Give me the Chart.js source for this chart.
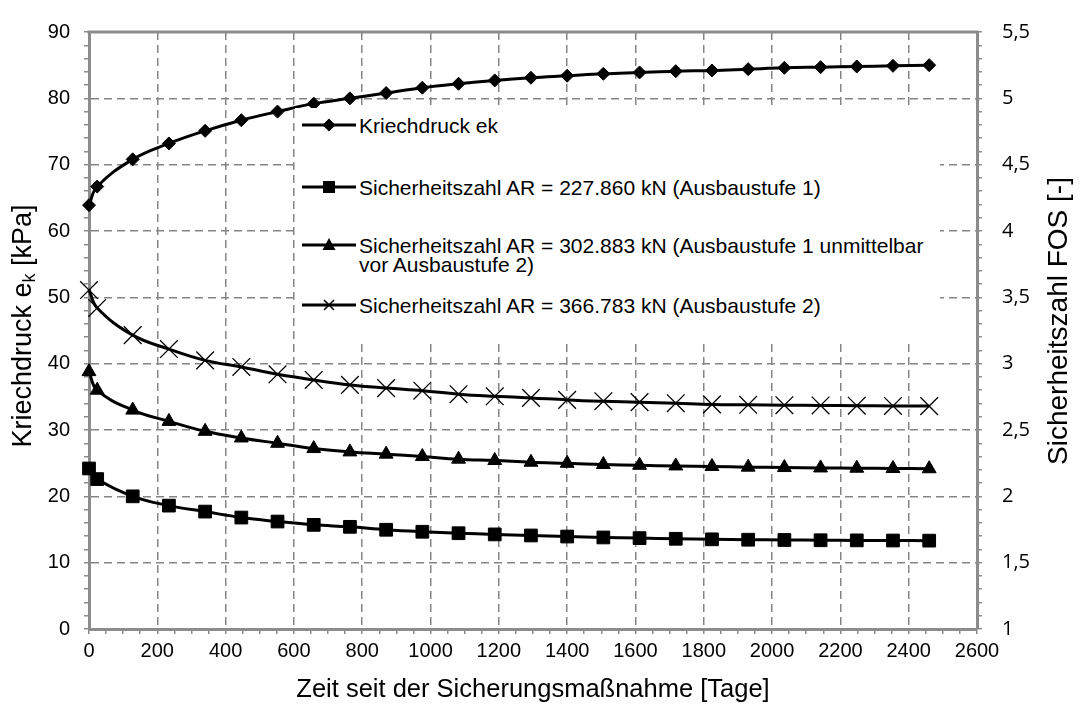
<!DOCTYPE html>
<html lang="de">
<head>
  <meta charset="utf-8">
  <title>Kriechdruck und Sicherheitszahl</title>
  <script src="https://cdn.jsdelivr.net/npm/chart.js@4.4.1/dist/chart.umd.min.js"></script>
  <style>
    body { margin: 0; background: #fff; }
    #wrap { position: relative; width: 1080px; height: 706px; }
    #legend {
      position: absolute; left: 295px; top: 108px; width: 645px; height: 235px;
      background: #fff; font: 21px 'Liberation Sans', Arial, sans-serif; color: #000;
    }
    #legend .sym { position: absolute; left: 7px; width: 54px; height: 24px; }
    #legend .txt { position: absolute; left: 64px; line-height: 19px; white-space: nowrap; }
  </style>
</head>
<body>
  <div id="wrap">
    <canvas id="chart-0"></canvas>
    <div id="legend"></div>
  </div>

  <script>
    // Zeit seit der Sicherungsmassnahme [Tage]
    let days = [0, 24, 128, 234, 340, 446, 552, 658, 764, 870, 976, 1082, 1188,
                1294, 1400, 1506, 1612, 1718, 1824, 1930, 2036, 2142, 2248, 2354, 2460];

    // Kriechdruck ek [kPa] (linke Achse)
    let kriechdruck = [63.9, 66.7, 70.8, 73.2, 75.1, 76.7, 78.0, 79.2, 80.0, 80.8, 81.6, 82.2, 82.7,
                       83.1, 83.4, 83.7, 83.9, 84.1, 84.2, 84.4, 84.6, 84.7, 84.8, 84.9, 85.0];

    // Sicherheitszahlen FOS [-] (rechte Achse)
    let fosAusbau1 = [2.21, 2.13, 2.00, 1.93, 1.885, 1.84, 1.81, 1.785, 1.77, 1.748, 1.733, 1.722, 1.713,
                      1.705, 1.697, 1.69, 1.685, 1.68, 1.676, 1.673, 1.671, 1.669, 1.668, 1.667, 1.666];
    let fosVorAusbau2 = [2.94, 2.80, 2.65, 2.565, 2.49, 2.44, 2.40, 2.36, 2.335, 2.318, 2.30, 2.28, 2.27,
                         2.257, 2.249, 2.24, 2.234, 2.229, 2.225, 2.22, 2.217, 2.214, 2.212, 2.21, 2.208];
    let fosAusbau2 = [3.555, 3.42, 3.215, 3.11, 3.025, 2.975, 2.92, 2.877, 2.84, 2.816, 2.796, 2.77, 2.754,
                      2.742, 2.727, 2.717, 2.71, 2.702, 2.693, 2.69, 2.687, 2.685, 2.683, 2.681, 2.68];

    let seriesLabels = [
      'Kriechdruck ek',
      'Sicherheitszahl AR = 227.860 kN (Ausbaustufe 1)',
      'Sicherheitszahl AR = 302.883 kN (Ausbaustufe 1 unmittelbar<br>vor Ausbaustufe 2)',
      'Sicherheitszahl AR = 366.783 kN (Ausbaustufe 2)'
    ];

    let xTicksMajor = 200;   // Beschriftung alle 200 Tage
    let yTicksMajor = 10;    // linke Achse
    let y2TicksMajor = 0.5;  // rechte Achse

    const gridGray = '#858585';
    const axisGray = '#8c8c8c';
    const arial = "'Liberation Sans', Arial, sans-serif";

    function pairs(ys) {
      return days.map((d, i) => ({x: d, y: ys[i]}));
    }

    function isMultiple(v, step) {
      let r = v / step;
      return Math.abs(r - Math.round(r)) < 1e-6;
    }

    function lineSet(label, ys, axis, style, radius, bw) {
      return {
        label: label,
        data: pairs(ys),
        yAxisID: axis,
        borderColor: '#000',
        backgroundColor: '#000',
        borderWidth: 3,
        tension: 0.4,
        pointStyle: style,
        pointRadius: radius,
        pointBorderWidth: bw,
        pointBorderColor: '#000',
        pointBackgroundColor: style === 'crossRot' ? 'rgba(0,0,0,0)' : '#000',
        clip: false
      };
    }

    const framePlugin = {
      id: 'frameAndTitles',
      beforeDatasetsDraw(chart) {
        const {ctx, chartArea: a} = chart;
        ctx.save();
        ctx.strokeStyle = axisGray;
        ctx.lineWidth = 3;
        ctx.beginPath();
        ctx.moveTo(a.left - 1.5, a.top);
        ctx.lineTo(a.right + 1.5, a.top);
        ctx.stroke();
        ctx.restore();
      },
      afterDraw(chart) {
        const {ctx} = chart;
        const big = '27px ' + arial;
        const small = '18px ' + arial;

        // linke Achsenbeschriftung mit Index
        let parts = [['Kriechdruck e', big, 0], ['k', small, 6], [' [kPa]', big, 0]];
        ctx.save();
        ctx.fillStyle = '#000';
        ctx.textBaseline = 'middle';
        ctx.translate(24, 326);
        ctx.rotate(-Math.PI / 2);
        let total = 0;
        parts.forEach(p => { ctx.font = p[1]; total += ctx.measureText(p[0]).width; });
        let x = -total / 2;
        parts.forEach(p => {
          ctx.font = p[1];
          ctx.fillText(p[0], x, p[2]);
          x += ctx.measureText(p[0]).width;
        });
        ctx.restore();

        // rechte Achsenbeschriftung
        ctx.save();
        ctx.fillStyle = '#000';
        ctx.textBaseline = 'middle';
        ctx.textAlign = 'center';
        ctx.font = '28px ' + arial;
        ctx.translate(1059, 321);
        ctx.rotate(-Math.PI / 2);
        ctx.fillText('Sicherheitszahl FOS [-]', 0, 0);
        ctx.restore();
      }
    };

    let chart = new Chart('chart-0', {
      type: 'line',
      data: {
        datasets: [
          lineSet(seriesLabels[0], kriechdruck, 'y', 'rectRot', 6.5, 1),
          lineSet(seriesLabels[1], fosAusbau1, 'y2', 'rect', 9, 1),
          lineSet(seriesLabels[2], fosVorAusbau2, 'y2', 'triangle', 8, 1),
          lineSet(seriesLabels[3], fosAusbau2, 'y2', 'crossRot', 12.5, 1.3)
        ]
      },
      options: {
        responsive: true,
        maintainAspectRatio: false,
        animation: false,
        events: [],
        layout: { padding: { top: 20, left: 0, right: 0, bottom: 0 } },
        plugins: {
          legend: { display: false },
          tooltip: { enabled: false }
        },
        scales: {
          x: {
            type: 'linear',
            min: 0,
            max: 2600,
            afterFit: s => { s.height = 77; },
            ticks: {
              stepSize: 50,
              autoSkip: false,
              maxRotation: 0,
              padding: 5,
              color: '#000',
              font: { size: 20, family: arial },
              callback: v => isMultiple(v, xTicksMajor) ? String(v) : ''
            },
            grid: {
              color: c => isMultiple(c.tick.value, xTicksMajor) ? gridGray : 'rgba(0,0,0,0)',
              tickColor: axisGray,
              tickLength: 5,
              lineWidth: 1.5
            },
            border: { color: axisGray, width: 3, dash: [8, 5] },
            title: {
              display: true,
              text: 'Zeit seit der Sicherungsmaßnahme [Tage]',
              color: '#000',
              font: { size: 25.5, family: arial },
              padding: { top: 0, bottom: 1 }
            }
          },
          y: {
            position: 'left',
            min: 0,
            max: 90,
            afterFit: s => { s.width = 89; },
            ticks: {
              stepSize: 2,
              autoSkip: false,
              padding: 14,
              color: '#000',
              font: { size: 20, family: arial },
              callback: v => isMultiple(v, yTicksMajor) ? String(v) : ''
            },
            grid: {
              color: c => isMultiple(c.tick.value, yTicksMajor) ? gridGray : 'rgba(0,0,0,0)',
              tickColor: axisGray,
              tickLength: 5,
              lineWidth: 1.5
            },
            border: { color: axisGray, width: 3, dash: [8, 5] }
          },
          y2: {
            position: 'right',
            min: 1,
            max: 5.5,
            afterFit: s => { s.width = 103; },
            ticks: {
              stepSize: 0.1,
              autoSkip: false,
              padding: 20,
              color: '#000',
              font: { size: 20, family: "'Open Sans', sans-serif" },
              callback: v => isMultiple(v, y2TicksMajor) ? String(Math.round(v * 10) / 10).replace('.', ',') : ''
            },
            grid: {
              drawOnChartArea: false,
              tickColor: axisGray,
              tickLength: 5,
              lineWidth: 1.5
            },
            border: { color: axisGray, width: 3 }
          }
        }
      },
      plugins: [framePlugin]
    });

    // Legende im Diagrammbereich
    let symbols = [
      '<polygon points="27,5.5 33.5,12 27,18.5 20.5,12" fill="#000"/>',
      '<rect x="21" y="6" width="12" height="12" fill="#000"/>',
      '<polygon points="27,5 33.5,17 20.5,17" fill="#000"/>',
      '<path d="M22,7 L32,17 M32,7 L22,17" stroke="#000" stroke-width="1.5"/>'
    ];
    let rowCenters = [17, 79, 137, 197];
    let legendHtml = '';
    seriesLabels.forEach(function(label, i) {
      let c = rowCenters[i];
      legendHtml += '<svg class="sym" style="top:' + (c - 12) + 'px" viewBox="0 0 54 24">' +
        '<line x1="0" y1="12" x2="54" y2="12" stroke="#000" stroke-width="3"/>' + symbols[i] + '</svg>';
      legendHtml += '<div class="txt" style="top:' + (c - 9.5) + 'px">' + label + '</div>';
    });
    document.getElementById('legend').innerHTML = legendHtml;
  </script>
</body>
</html>
